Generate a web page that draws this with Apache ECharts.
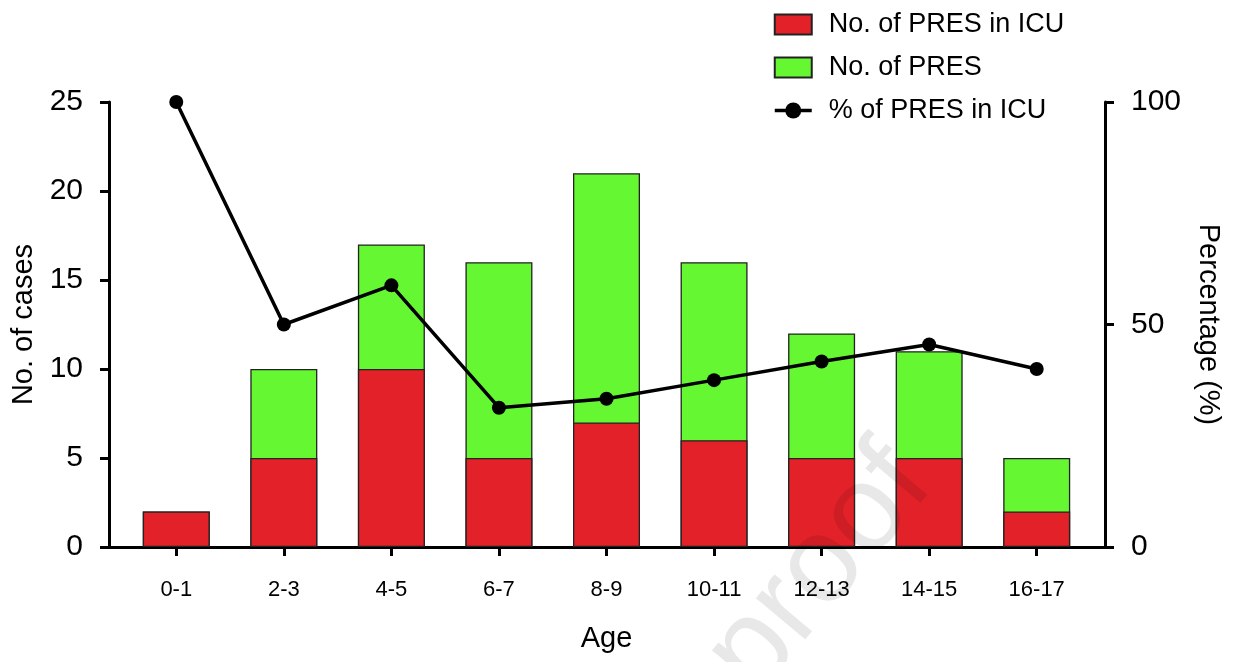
<!DOCTYPE html>
<html>
<head>
<meta charset="utf-8">
<script src="https://cdn.jsdelivr.net/npm/echarts@6/dist/echarts.min.js"></script>
<style>
  html, body { margin: 0; padding: 0; background: #fff; }
  #chart { width: 1236px; height: 662px; }
</style>
</head>
<body>
<div id="chart"></div>
<script>
const ageGroups = ["0-1", "2-3", "4-5", "6-7", "8-9", "10-11", "12-13", "14-15", "16-17"];
const presTotal = [2, 10, 17, 16, 21, 16, 12, 11, 5];
const presIcu = [2, 5, 10, 5, 7, 6, 5, 5, 2];
const icuPercent = [100, 50, 58.8, 31.3, 33.3, 37.5, 41.7, 45.5, 40];
const leftTicks = [0, 25, 5];
const rightTicks = [0, 100, 50];

const FONT = "Liberation Sans, Arial, Helvetica, sans-serif";
const RED = "#e32129";
const GREEN = "#66f733";

const myChart = echarts.init(document.getElementById("chart"));

const option = {
  animation: false,
  textStyle: { fontFamily: FONT, color: "#000" },
  legend: {
    orient: "vertical",
    left: 768,
    top: 6,
    itemWidth: 37,
    itemHeight: 20,
    itemGap: 16,
    data: [
      { name: "No. of PRES in ICU", icon: "rect" },
      { name: "No. of PRES", icon: "rect" },
      { name: "% of PRES in ICU", lineStyle: { width: 3.5 } }
    ],
    textStyle: { fontSize: 27, fontFamily: FONT, color: "#000", padding: [0, 0, 0, 12] }
  },
  grid: [
    // data grid, category centres
    { left: 122.5, right: 145.5, top: 102, bottom: 115 },
    // frame grid, axis lines
    { left: 109, right: 131, top: 102, bottom: 115 }
  ],
  xAxis: [
    {
      type: "category",
      gridIndex: 0,
      data: ageGroups,
      axisLine: { show: false },
      axisTick: { show: true, alignWithLabel: true, length: 9, lineStyle: { color: "#000", width: 3 } },
      axisLabel: { fontSize: 22, color: "#000", margin: 32, fontFamily: FONT },
      name: "Age",
      nameLocation: "middle",
      nameGap: 77,
      nameTextStyle: { fontSize: 29, color: "#000", fontFamily: FONT }
    },
    {
      type: "value",
      gridIndex: 1,
      min: 0,
      max: 1,
      axisLine: { show: true, lineStyle: { color: "#000", width: 3 } },
      axisTick: { show: false },
      axisLabel: { show: false },
      splitLine: { show: false }
    }
  ],
  yAxis: [
    { type: "value", gridIndex: 0, min: leftTicks[0], max: leftTicks[1], show: false, splitLine: { show: false } },
    { type: "value", gridIndex: 0, min: rightTicks[0], max: rightTicks[1], show: false, splitLine: { show: false } },
    {
      type: "value",
      gridIndex: 1,
      position: "left",
      min: leftTicks[0],
      max: leftTicks[1],
      interval: leftTicks[2],
      axisLine: { show: true, lineStyle: { color: "#000", width: 3 } },
      axisTick: { show: true, length: 9, lineStyle: { color: "#000", width: 3 } },
      axisLabel: { fontSize: 30, color: "#000", margin: 26, fontFamily: FONT },
      splitLine: { show: false },
      name: "No. of cases",
      nameLocation: "middle",
      nameRotate: 90,
      nameGap: 66,
      nameTextStyle: { fontSize: 29, color: "#000", fontFamily: FONT }
    },
    {
      type: "value",
      gridIndex: 1,
      position: "right",
      min: rightTicks[0],
      max: rightTicks[1],
      interval: rightTicks[2],
      axisLine: { show: true, lineStyle: { color: "#000", width: 3 } },
      axisTick: { show: true, length: 9, lineStyle: { color: "#000", width: 3 } },
      axisLabel: { fontSize: 30, color: "#000", margin: 26, fontFamily: FONT },
      splitLine: { show: false },
      name: "Percentage (%)",
      nameLocation: "middle",
      nameRotate: -90,
      nameGap: 88,
      nameTextStyle: { fontSize: 29, color: "#000", fontFamily: FONT }
    }
  ],
  series: [
    {
      name: "No. of PRES",
      type: "bar",
      xAxisIndex: 0,
      yAxisIndex: 0,
      barWidth: 67,
      barGap: "-100%",
      data: presTotal,
      itemStyle: { color: GREEN, borderColor: "#222", borderWidth: 1.3 }
    },
    {
      name: "No. of PRES in ICU",
      type: "bar",
      xAxisIndex: 0,
      yAxisIndex: 0,
      barWidth: 67,
      barGap: "-100%",
      data: presIcu,
      itemStyle: { color: RED, borderColor: "#222", borderWidth: 1.3 }
    },
    {
      name: "% of PRES in ICU",
      type: "line",
      xAxisIndex: 0,
      yAxisIndex: 1,
      data: icuPercent,
      symbol: "circle",
      symbolSize: 14,
      lineStyle: { color: "#000", width: 3.5 },
      itemStyle: { color: "#000" },
      z: 5
    }
  ],
  graphic: [
    {
      type: "text",
      x: 820,
      y: 570,
      rotation: 0.87,
      z: 100,
      silent: true,
      style: {
        text: "proof",
        fontSize: 122,
        fontFamily: FONT,
        fill: "rgba(0,0,0,0.09)",
        align: "center",
        verticalAlign: "middle"
      }
    }
  ]
};

myChart.setOption(option);
</script>
</body>
</html>
